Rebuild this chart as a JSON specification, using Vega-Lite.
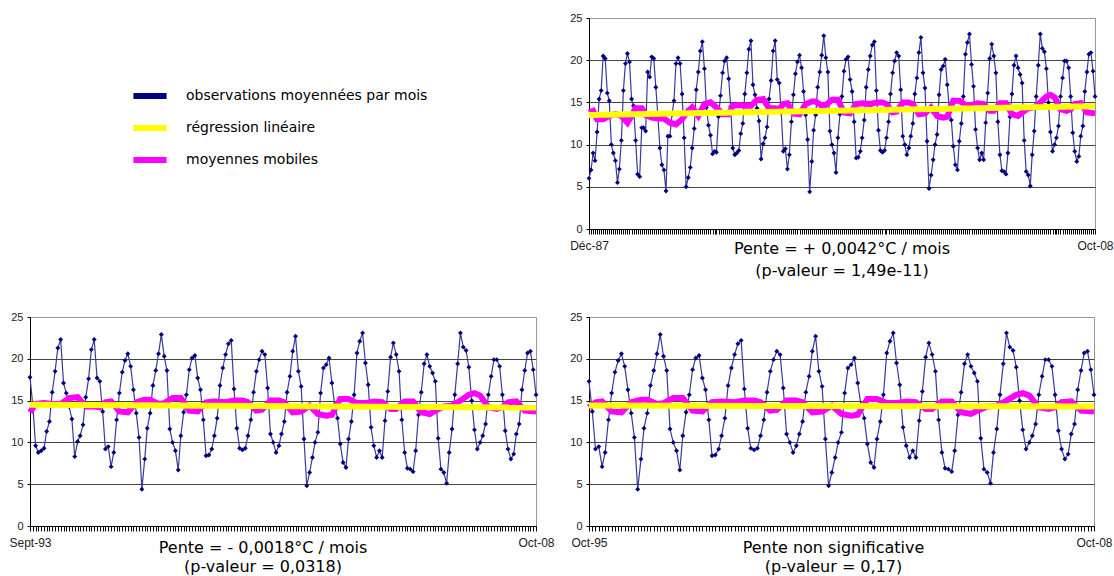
{
  "$schema": "https://vega.github.io/schema/vega-lite/v6.json",
  "background": "white",
  "padding": {"left": 8, "top": 11, "right": 0, "bottom": 0},
  "bounds": "flush",
  "columns": 2,
  "spacing": {"row": 88, "column": 53},
  "datasets": {
    "obs": [
      {"d":"1987-12-01","t":6.0},
      {"d":"1988-01-01","t":7.0},{"d":"1988-02-01","t":9.0},{"d":"1988-03-01","t":8.1},{"d":"1988-04-01","t":11.5},{"d":"1988-05-01","t":15.4},{"d":"1988-06-01","t":16.4},{"d":"1988-07-01","t":20.5},{"d":"1988-08-01","t":20.2},{"d":"1988-09-01","t":16.1},{"d":"1988-10-01","t":15.2},{"d":"1988-11-01","t":10.0},{"d":"1988-12-01","t":9.0},
      {"d":"1989-01-01","t":8.1},{"d":"1989-02-01","t":5.5},{"d":"1989-03-01","t":7.1},{"d":"1989-04-01","t":10.5},{"d":"1989-05-01","t":16.4},{"d":"1989-06-01","t":19.6},{"d":"1989-07-01","t":20.8},{"d":"1989-08-01","t":19.8},{"d":"1989-09-01","t":15.4},{"d":"1989-10-01","t":14.6},{"d":"1989-11-01","t":10.5},{"d":"1989-12-01","t":6.5},
      {"d":"1990-01-01","t":6.2},{"d":"1990-02-01","t":12.0},{"d":"1990-03-01","t":12.0},{"d":"1990-04-01","t":11.6},{"d":"1990-05-01","t":18.6},{"d":"1990-06-01","t":18.0},{"d":"1990-07-01","t":20.4},{"d":"1990-08-01","t":20.2},{"d":"1990-09-01","t":16.8},{"d":"1990-10-01","t":13.5},{"d":"1990-11-01","t":9.6},{"d":"1990-12-01","t":7.6},
      {"d":"1991-01-01","t":7.0},{"d":"1991-02-01","t":4.5},{"d":"1991-03-01","t":11.0},{"d":"1991-04-01","t":11.0},{"d":"1991-05-01","t":13.5},{"d":"1991-06-01","t":15.2},{"d":"1991-07-01","t":19.6},{"d":"1991-08-01","t":20.3},{"d":"1991-09-01","t":19.6},{"d":"1991-10-01","t":16.0},{"d":"1991-11-01","t":10.8},{"d":"1991-12-01","t":5.0},
      {"d":"1992-01-01","t":6.1},{"d":"1992-02-01","t":7.3},{"d":"1992-03-01","t":9.6},{"d":"1992-04-01","t":11.9},{"d":"1992-05-01","t":16.5},{"d":"1992-06-01","t":18.6},{"d":"1992-07-01","t":21.1},{"d":"1992-08-01","t":22.2},{"d":"1992-09-01","t":19.0},{"d":"1992-10-01","t":14.4},{"d":"1992-11-01","t":12.3},{"d":"1992-12-01","t":11.1},
      {"d":"1993-01-01","t":8.9},{"d":"1993-02-01","t":9.2},{"d":"1993-03-01","t":9.1},{"d":"1993-04-01","t":13.3},{"d":"1993-05-01","t":15.8},{"d":"1993-06-01","t":18.5},{"d":"1993-07-01","t":19.9},{"d":"1993-08-01","t":20.3},{"d":"1993-09-01","t":17.8},{"d":"1993-10-01","t":14.5},{"d":"1993-11-01","t":9.6},{"d":"1993-12-01","t":8.8},
      {"d":"1994-01-01","t":9.0},{"d":"1994-02-01","t":9.3},{"d":"1994-03-01","t":11.3},{"d":"1994-04-01","t":12.5},{"d":"1994-05-01","t":16.0},{"d":"1994-06-01","t":18.5},{"d":"1994-07-01","t":21.3},{"d":"1994-08-01","t":22.3},{"d":"1994-09-01","t":17.1},{"d":"1994-10-01","t":15.9},{"d":"1994-11-01","t":14.3},{"d":"1994-12-01","t":12.8},
      {"d":"1995-01-01","t":8.3},{"d":"1995-02-01","t":10.1},{"d":"1995-03-01","t":10.8},{"d":"1995-04-01","t":12.1},{"d":"1995-05-01","t":15.4},{"d":"1995-06-01","t":17.6},{"d":"1995-07-01","t":21.1},{"d":"1995-08-01","t":22.3},{"d":"1995-09-01","t":17.7},{"d":"1995-10-01","t":17.3},{"d":"1995-11-01","t":13.7},{"d":"1995-12-01","t":9.2},
      {"d":"1996-01-01","t":9.5},{"d":"1996-02-01","t":7.1},{"d":"1996-03-01","t":8.8},{"d":"1996-04-01","t":12.7},{"d":"1996-05-01","t":15.9},{"d":"1996-06-01","t":18.4},{"d":"1996-07-01","t":19.8},{"d":"1996-08-01","t":20.6},{"d":"1996-09-01","t":19.1},{"d":"1996-10-01","t":16.3},{"d":"1996-11-01","t":13.5},{"d":"1996-12-01","t":10.6},
      {"d":"1997-01-01","t":4.4},{"d":"1997-02-01","t":8.0},{"d":"1997-03-01","t":11.7},{"d":"1997-04-01","t":13.5},{"d":"1997-05-01","t":16.8},{"d":"1997-06-01","t":18.6},{"d":"1997-07-01","t":20.6},{"d":"1997-08-01","t":22.9},{"d":"1997-09-01","t":20.3},{"d":"1997-10-01","t":18.6},{"d":"1997-11-01","t":11.6},{"d":"1997-12-01","t":10.0},
      {"d":"1998-01-01","t":9.0},{"d":"1998-02-01","t":6.7},{"d":"1998-03-01","t":10.8},{"d":"1998-04-01","t":13.6},{"d":"1998-05-01","t":15.7},{"d":"1998-06-01","t":18.7},{"d":"1998-07-01","t":20.1},{"d":"1998-08-01","t":20.4},{"d":"1998-09-01","t":17.7},{"d":"1998-10-01","t":16.3},{"d":"1998-11-01","t":12.7},{"d":"1998-12-01","t":8.4},
      {"d":"1999-01-01","t":8.5},{"d":"1999-02-01","t":9.2},{"d":"1999-03-01","t":10.8},{"d":"1999-04-01","t":12.9},{"d":"1999-05-01","t":16.8},{"d":"1999-06-01","t":18.9},{"d":"1999-07-01","t":20.5},{"d":"1999-08-01","t":21.8},{"d":"1999-09-01","t":22.2},{"d":"1999-10-01","t":16.4},{"d":"1999-11-01","t":11.7},{"d":"1999-12-01","t":9.3},
      {"d":"2000-01-01","t":9.1},{"d":"2000-02-01","t":9.3},{"d":"2000-03-01","t":10.8},{"d":"2000-04-01","t":12.7},{"d":"2000-05-01","t":16.0},{"d":"2000-06-01","t":18.5},{"d":"2000-07-01","t":19.9},{"d":"2000-08-01","t":20.9},{"d":"2000-09-01","t":20.5},{"d":"2000-10-01","t":16.5},{"d":"2000-11-01","t":11.0},{"d":"2000-12-01","t":10.0},
      {"d":"2001-01-01","t":8.8},{"d":"2001-02-01","t":9.6},{"d":"2001-03-01","t":11.0},{"d":"2001-04-01","t":12.5},{"d":"2001-05-01","t":16.0},{"d":"2001-06-01","t":17.9},{"d":"2001-07-01","t":20.9},{"d":"2001-08-01","t":22.7},{"d":"2001-09-01","t":18.5},{"d":"2001-10-01","t":16.7},{"d":"2001-11-01","t":10.4},{"d":"2001-12-01","t":4.8},
      {"d":"2002-01-01","t":6.4},{"d":"2002-02-01","t":8.2},{"d":"2002-03-01","t":10.0},{"d":"2002-04-01","t":11.2},{"d":"2002-05-01","t":15.9},{"d":"2002-06-01","t":18.9},{"d":"2002-07-01","t":19.3},{"d":"2002-08-01","t":20.1},{"d":"2002-09-01","t":17.1},{"d":"2002-10-01","t":14.5},{"d":"2002-11-01","t":12.9},{"d":"2002-12-01","t":9.8},
      {"d":"2003-01-01","t":7.6},{"d":"2003-02-01","t":7.0},{"d":"2003-03-01","t":10.4},{"d":"2003-04-01","t":12.5},{"d":"2003-05-01","t":15.7},{"d":"2003-06-01","t":20.7},{"d":"2003-07-01","t":22.1},{"d":"2003-08-01","t":23.1},{"d":"2003-09-01","t":19.5},{"d":"2003-10-01","t":16.9},{"d":"2003-11-01","t":11.8},{"d":"2003-12-01","t":9.6},
      {"d":"2004-01-01","t":8.2},{"d":"2004-02-01","t":9.0},{"d":"2004-03-01","t":8.2},{"d":"2004-04-01","t":12.6},{"d":"2004-05-01","t":16.1},{"d":"2004-06-01","t":20.2},{"d":"2004-07-01","t":21.9},{"d":"2004-08-01","t":20.5},{"d":"2004-09-01","t":18.5},{"d":"2004-10-01","t":12.7},{"d":"2004-11-01","t":8.8},{"d":"2004-12-01","t":6.9},
      {"d":"2005-01-01","t":6.8},{"d":"2005-02-01","t":6.5},{"d":"2005-03-01","t":9.0},{"d":"2005-04-01","t":13.3},{"d":"2005-05-01","t":16.0},{"d":"2005-06-01","t":19.4},{"d":"2005-07-01","t":20.5},{"d":"2005-08-01","t":19.1},{"d":"2005-09-01","t":18.3},{"d":"2005-10-01","t":17.3},{"d":"2005-11-01","t":10.5},{"d":"2005-12-01","t":6.8},
      {"d":"2006-01-01","t":6.4},{"d":"2006-02-01","t":5.1},{"d":"2006-03-01","t":8.8},{"d":"2006-04-01","t":11.6},{"d":"2006-05-01","t":15.7},{"d":"2006-06-01","t":19.4},{"d":"2006-07-01","t":23.1},{"d":"2006-08-01","t":21.4},{"d":"2006-09-01","t":21.0},{"d":"2006-10-01","t":19.0},{"d":"2006-11-01","t":15.0},{"d":"2006-12-01","t":11.5},
      {"d":"2007-01-01","t":9.2},{"d":"2007-02-01","t":10.0},{"d":"2007-03-01","t":10.8},{"d":"2007-04-01","t":12.2},{"d":"2007-05-01","t":15.7},{"d":"2007-06-01","t":17.9},{"d":"2007-07-01","t":19.9},{"d":"2007-08-01","t":19.9},{"d":"2007-09-01","t":19.1},{"d":"2007-10-01","t":15.7},{"d":"2007-11-01","t":11.4},{"d":"2007-12-01","t":9.2},
      {"d":"2008-01-01","t":8.0},{"d":"2008-02-01","t":8.6},{"d":"2008-03-01","t":11.0},{"d":"2008-04-01","t":12.2},{"d":"2008-05-01","t":16.3},{"d":"2008-06-01","t":18.6},{"d":"2008-07-01","t":20.7},{"d":"2008-08-01","t":20.9},{"d":"2008-09-01","t":18.7},{"d":"2008-10-01","t":15.7}
    ],
    "mm": [
      {"d":"1987-12-01","t":13.8},{"d":"1988-02-01","t":14.0},{"d":"1988-04-01","t":13.0},{"d":"1988-07-01","t":13.0},{"d":"1988-10-01","t":13.4},
      {"d":"1989-01-01","t":13.6},{"d":"1989-04-01","t":13.4},{"d":"1989-07-01","t":12.6},{"d":"1989-09-01","t":13.4},{"d":"1989-11-01","t":14.3},
      {"d":"1990-02-01","t":14.3},{"d":"1990-04-01","t":13.5},{"d":"1990-07-01","t":13.2},{"d":"1990-10-01","t":13.1},
      {"d":"1991-01-01","t":13.1},{"d":"1991-04-01","t":12.6},{"d":"1991-07-01","t":12.4},{"d":"1991-10-01","t":13.0},
      {"d":"1992-01-01","t":14.0},{"d":"1992-03-01","t":14.4},{"d":"1992-06-01","t":13.4},{"d":"1992-09-01","t":14.8},{"d":"1992-12-01","t":15.0},
      {"d":"1993-03-01","t":14.4},{"d":"1993-06-01","t":13.6},{"d":"1993-09-01","t":13.6},{"d":"1993-11-01","t":14.6},
      {"d":"1994-02-01","t":14.7},{"d":"1994-05-01","t":14.6},{"d":"1994-08-01","t":14.6},{"d":"1994-11-01","t":15.3},
      {"d":"1995-02-01","t":15.4},{"d":"1995-05-01","t":14.3},{"d":"1995-08-01","t":14.3},{"d":"1995-10-01","t":14.2},{"d":"1995-12-01","t":14.8},
      {"d":"1996-02-01","t":14.9},{"d":"1996-05-01","t":13.7},{"d":"1996-08-01","t":13.6},{"d":"1996-11-01","t":14.8},
      {"d":"1997-02-01","t":15.1},{"d":"1997-04-01","t":15.1},{"d":"1997-07-01","t":14.6},{"d":"1997-09-01","t":14.7},{"d":"1997-12-01","t":15.3},
      {"d":"1998-03-01","t":15.3},{"d":"1998-06-01","t":13.8},{"d":"1998-09-01","t":13.7},{"d":"1998-12-01","t":14.8},
      {"d":"1999-03-01","t":14.9},{"d":"1999-07-01","t":14.8},{"d":"1999-10-01","t":15.0},
      {"d":"2000-01-01","t":15.0},{"d":"2000-03-01","t":14.8},{"d":"2000-06-01","t":13.8},{"d":"2000-08-01","t":13.9},{"d":"2000-11-01","t":15.0},
      {"d":"2001-02-01","t":15.0},{"d":"2001-04-01","t":14.8},{"d":"2001-07-01","t":13.6},{"d":"2001-10-01","t":13.7},
      {"d":"2002-01-01","t":14.4},{"d":"2002-04-01","t":13.4},{"d":"2002-07-01","t":13.2},{"d":"2002-09-01","t":13.3},{"d":"2002-12-01","t":15.2},
      {"d":"2003-03-01","t":15.2},{"d":"2003-06-01","t":14.7},{"d":"2003-09-01","t":14.7},{"d":"2003-12-01","t":14.9},
      {"d":"2004-03-01","t":14.8},{"d":"2004-06-01","t":14.0},{"d":"2004-08-01","t":14.0},{"d":"2004-11-01","t":14.9},
      {"d":"2005-02-01","t":14.9},{"d":"2005-05-01","t":13.6},{"d":"2005-08-01","t":13.4},{"d":"2005-10-01","t":13.8},
      {"d":"2006-01-01","t":14.3},{"d":"2006-04-01","t":14.4},{"d":"2006-07-01","t":15.0},{"d":"2006-10-01","t":15.7},{"d":"2006-12-01","t":15.9},
      {"d":"2007-02-01","t":15.6},{"d":"2007-05-01","t":14.2},{"d":"2007-08-01","t":14.0},{"d":"2007-10-01","t":14.2},{"d":"2007-12-01","t":14.8},
      {"d":"2008-03-01","t":14.9},{"d":"2008-06-01","t":13.8},{"d":"2008-10-01","t":13.7}
    ],
    "reg": [
      {"p":"top","d":"1987-12-01","t":13.5},{"p":"top","d":"2008-10-01","t":14.55},
      {"p":"bl","d":"1993-09-01","t":14.5},{"p":"bl","d":"2008-10-01","t":14.17},
      {"p":"br","d":"1995-10-01","t":14.4},{"p":"br","d":"2008-10-01","t":14.3}
    ]
  },
  "concat": [
    {
      "width": 506, "height": 211,
      "view": {"stroke": null},
      "data": {"values": [{"s": "observations moyennées par mois"}, {"s": "régression linéaire"}, {"s": "moyennes mobiles"}]},
      "mark": {"type": "point", "opacity": 0},
      "encoding": {
        "color": {
          "field": "s", "type": "nominal", "sort": null,
          "scale": {"domain": ["observations moyennées par mois", "régression linéaire", "moyennes mobiles"], "range": ["#000080", "#ffff00", "#ff00ff"]},
          "legend": {"orient": "none", "legendX": 100, "legendY": 58, "title": null, "symbolType": "stroke", "symbolStrokeWidth": 6, "symbolSize": 1100, "symbolOpacity": 1, "labelFont": "DejaVu Sans", "labelFontSize": 14, "labelColor": "#000", "labelOffset": 16, "rowPadding": 0, "labelLimit": 400}
        }
      }
    },
    {
      "width": 506, "height": 211,
      "title": {"text": ["Pente = + 0,0042°C / mois", "(p-valeur = 1,49e-11)"], "orient": "bottom", "offset": -10, "lineHeight": 22},
      "encoding": {
        "x": {"field": "d", "type": "temporal",
          "scale": {"type": "utc", "domain": [{"year": 1987, "month": 12, "date": 1, "utc": true}, {"year": 2008, "month": 10, "date": 1, "utc": true}]},
          "axis": {"tickCount": {"interval": "month", "step": 1}, "tickSize": 5, "labelPadding": 6, "labelFontSize": 12, "labelOverlap": false, "labelBound": false, "labelFlush": false, "grid": false,
            "labelExpr": "utcFormat(datum.value,'%Y-%m') == '1987-12' ? 'Déc-87' : (utcFormat(datum.value,'%Y-%m') == '2008-10' ? 'Oct-08' : '')"}},
        "y": {"field": "t", "type": "quantitative", "scale": {"domain": [0, 25], "nice": false},
          "axis": {"values": [0, 5, 10, 15, 20, 25], "grid": true, "gridColor": {"condition": {"test": "datum.value == 25", "value": "#999999"}, "value": "#444444"}, "tickSize": 3, "labelFontSize": 11, "labelPadding": 4}}
      },
      "layer": [
        {"data": {"name": "obs"}, "mark": {"type": "line", "color": "#3a3a9c", "strokeWidth": 1.2}},
        {"data": {"name": "obs"}, "mark": {"type": "point", "shape": "diamond", "filled": true, "color": "#000080", "size": 24, "opacity": 1}},
        {"data": {"name": "mm"}, "mark": {"type": "line", "color": "#ff00ff", "strokeWidth": 6}},
        {"data": {"name": "reg"}, "transform": [{"filter": {"field": "p", "equal": "top"}}], "mark": {"type": "line", "color": "#ffff00", "strokeWidth": 6}}
      ]
    },
    {
      "width": 506, "height": 209,
      "title": {"text": ["Pente = - 0,0018°C / mois", "(p-valeur = 0,0318)"], "orient": "bottom", "offset": -8, "lineHeight": 19, "dx": -20},
      "encoding": {
        "x": {"field": "d", "type": "temporal",
          "scale": {"type": "utc", "domain": [{"year": 1993, "month": 9, "date": 1, "utc": true}, {"year": 2008, "month": 10, "date": 1, "utc": true}]},
          "axis": {"tickCount": {"interval": "month", "step": 1}, "tickSize": 5, "labelPadding": 6, "labelFontSize": 12, "labelOverlap": false, "labelBound": false, "labelFlush": false, "grid": false,
            "labelExpr": "utcFormat(datum.value,'%Y-%m') == '1993-09' ? 'Sept-93' : (utcFormat(datum.value,'%Y-%m') == '2008-10' ? 'Oct-08' : '')"}},
        "y": {"field": "t", "type": "quantitative", "scale": {"domain": [0, 25], "nice": false},
          "axis": {"values": [0, 5, 10, 15, 20, 25], "grid": true, "gridColor": {"condition": {"test": "datum.value == 25", "value": "#999999"}, "value": "#444444"}, "tickSize": 3, "labelFontSize": 11, "labelPadding": 4}}
      },
      "layer": [
        {"data": {"name": "obs"}, "transform": [{"filter": {"field": "d", "gte": {"year": 1993, "month": 8, "date": 20, "utc": true}}}], "mark": {"type": "line", "color": "#3a3a9c", "strokeWidth": 1.2}},
        {"data": {"name": "obs"}, "transform": [{"filter": {"field": "d", "gte": {"year": 1993, "month": 8, "date": 20, "utc": true}}}], "mark": {"type": "point", "shape": "diamond", "filled": true, "color": "#000080", "size": 24, "opacity": 1}},
        {"data": {"name": "mm"}, "transform": [{"filter": {"field": "d", "gte": {"year": 1993, "month": 8, "date": 20, "utc": true}}}], "mark": {"type": "line", "color": "#ff00ff", "strokeWidth": 6}},
        {"data": {"name": "reg"}, "transform": [{"filter": {"field": "p", "equal": "bl"}}], "mark": {"type": "line", "color": "#ffff00", "strokeWidth": 6}}
      ]
    },
    {
      "width": 505, "height": 209,
      "title": {"text": ["Pente non significative", "(p-valeur = 0,17)"], "orient": "bottom", "offset": -8, "lineHeight": 19, "dx": -8},
      "encoding": {
        "x": {"field": "d", "type": "temporal",
          "scale": {"type": "utc", "domain": [{"year": 1995, "month": 10, "date": 1, "utc": true}, {"year": 2008, "month": 10, "date": 1, "utc": true}]},
          "axis": {"tickCount": {"interval": "month", "step": 1}, "tickSize": 5, "labelPadding": 6, "labelFontSize": 12, "labelOverlap": false, "labelBound": false, "labelFlush": false, "grid": false,
            "labelExpr": "utcFormat(datum.value,'%Y-%m') == '1995-10' ? 'Oct-95' : (utcFormat(datum.value,'%Y-%m') == '2008-10' ? 'Oct-08' : '')"}},
        "y": {"field": "t", "type": "quantitative", "scale": {"domain": [0, 25], "nice": false},
          "axis": {"values": [0, 5, 10, 15, 20, 25], "grid": true, "gridColor": {"condition": {"test": "datum.value == 25", "value": "#999999"}, "value": "#444444"}, "tickSize": 3, "labelFontSize": 11, "labelPadding": 4}}
      },
      "layer": [
        {"data": {"name": "obs"}, "transform": [{"filter": {"field": "d", "gte": {"year": 1995, "month": 9, "date": 20, "utc": true}}}], "mark": {"type": "line", "color": "#3a3a9c", "strokeWidth": 1.2}},
        {"data": {"name": "obs"}, "transform": [{"filter": {"field": "d", "gte": {"year": 1995, "month": 9, "date": 20, "utc": true}}}], "mark": {"type": "point", "shape": "diamond", "filled": true, "color": "#000080", "size": 24, "opacity": 1}},
        {"data": {"name": "mm"}, "transform": [{"filter": {"field": "d", "gte": {"year": 1995, "month": 9, "date": 20, "utc": true}}}], "mark": {"type": "line", "color": "#ff00ff", "strokeWidth": 6}},
        {"data": {"name": "reg"}, "transform": [{"filter": {"field": "p", "equal": "br"}}], "mark": {"type": "line", "color": "#ffff00", "strokeWidth": 6}}
      ]
    }
  ],
  "config": {
    "view": {"stroke": "#999999", "strokeWidth": 1},
    "font": "DejaVu Sans",
    "axis": {"labelFont": "Liberation Sans", "labelColor": "#222222", "domainColor": "#000000", "tickColor": "#000000", "title": null},
    "title": {"font": "DejaVu Sans", "fontSize": 16, "fontWeight": "normal", "color": "#000000", "anchor": "middle"}
  }
}
